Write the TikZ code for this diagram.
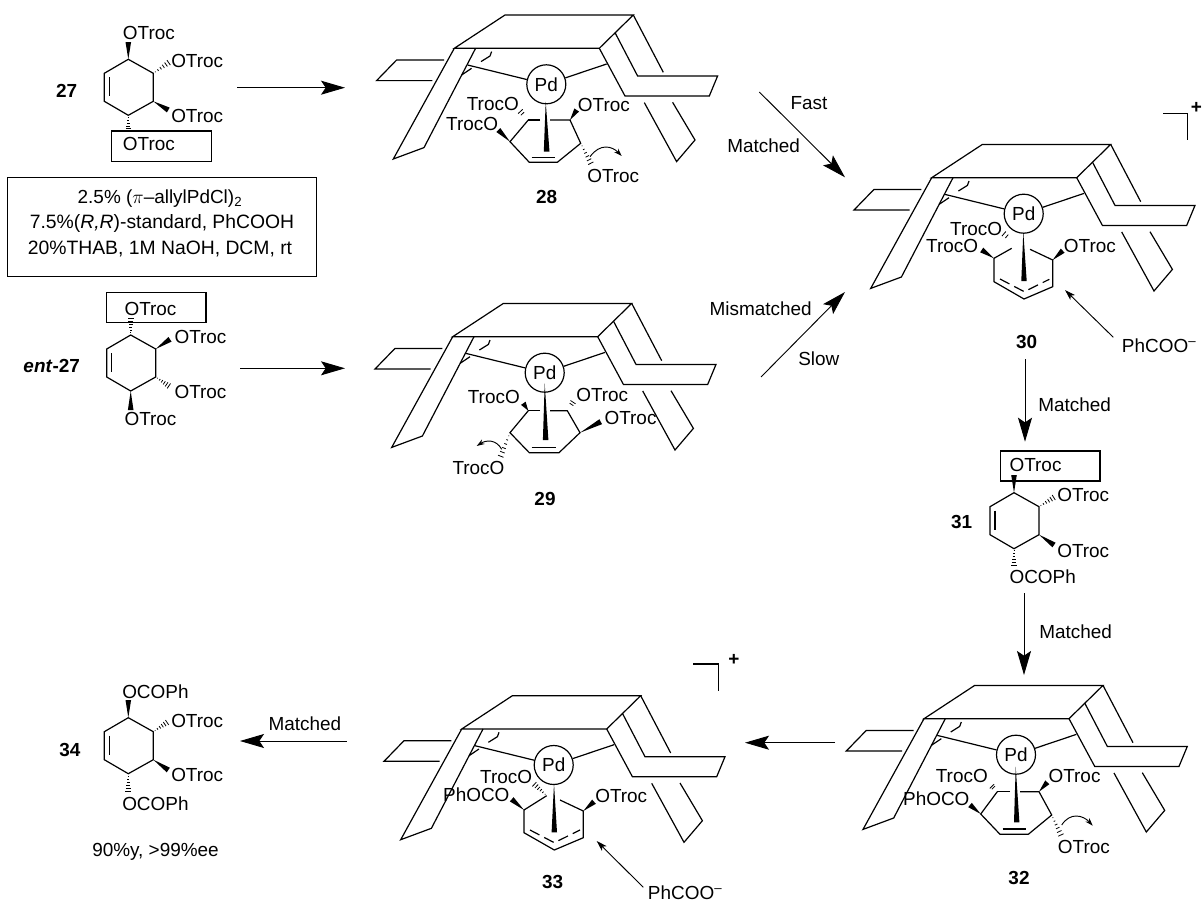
\documentclass[tikz,border=0pt]{standalone}
\usepackage{fontspec}
\setmainfont{Liberation Sans}
\usetikzlibrary{arrows.meta,calc}

\tikzset{
  bondline/.style={line width=0.9pt,line join=miter},
  txt/.style={inner sep=0.75pt,font=\fontsize{14.2}{16}\selectfont},
  reagenttxt/.style={inner sep=0.75pt,font=\fontsize{14.5}{16}\selectfont},
  numlabel/.style={inner sep=0.75pt,font=\fontsize{14.2}{16}\selectfont\bfseries},
  boxline/.style={line width=1pt},
  bigarrow/.style={line width=0.7pt,-{Stealth[length=18pt,width=10.5pt,inset=3.5pt]}},
  smallarrow/.style={line width=0.7pt,-{Stealth[length=8pt,width=5pt,inset=2pt]}},
  curlarrow/.style={line width=0.7pt,-{Stealth[length=6pt,width=4pt,inset=2pt]}}
}

% Pd complex frame, #1 #2 = front left corner of the roof
\newcommand{\pdframe}[3]{
\begin{scope}[shift={(#1,#2)},bondline]
%roof
\draw (0,0) -- (50.7,-33.3) -- (179,-33.3) -- (145,0) -- cycle ;
%left wall
\draw (0,0) -- (-61,110.7) -- (-30.3,99.3) -- (21.3,0) ;
\draw (-10.3,11.7) -- (-57.7,11.7) -- (-77.7,32.3) -- (-22,32.3) ;
\draw (37.3,3.3) -- (35.7,7.7) -- (26.7,13.3) ;
\draw (17.3,20) -- (7.3,26.7) ;
%right wall
\draw (145,0) -- (170.7,47.7) -- (255,47.7) -- (263.3,27.7) -- (183.3,27.7) -- (160.7,-15.7) ;
\draw (179,-33.3) -- (209,24) ;
\draw (190,54.3) -- (222.3,113.3) -- (240.7,91.7) -- (218.3,54) ;
%Pd
\node [circle,draw,inner sep=0pt,minimum size=29.25pt,txt] (#3) at (92,36) {Pd};
\coordinate (#3l) at (13.3,16.7);
\coordinate (#3r) at (152.3,15.7);
\draw (#3l) -- (#3) ;
\draw (#3r) -- (#3) ;
\end{scope}
}

% cyclohexene ring, #1 #2 = top atom, #3 = name
\newcommand{\hexring}[3]{
\begin{scope}[shift={(#1,#2)},bondline]
\coordinate (#3t) at (0,0);
\coordinate (#3rt) at (25,14);
\coordinate (#3rb) at (25,42);
\coordinate (#3b) at (0,56);
\coordinate (#3lb) at (-24,42);
\coordinate (#3lt) at (-24,14);
\draw (#3t) -- (#3rt) -- (#3rb) -- (#3b) -- (#3lb) -- (#3lt) -- cycle ;
\draw (-19,18) -- (-19,37) ;
\end{scope}
}

% wedge and hash bonds from a narrow end to a broad end
\newcommand{\wbond}[2]{
\fill ($#2!2.1pt!90:#1$) -- #1 -- ($#2!2.1pt!-90:#1$) -- cycle ;
}
\newcommand{\hbond}[2]{
\foreach \t in {0.12,0.28,0.44,0.6,0.76,0.92}
  \draw [line width=0.6pt] ($#1!\t!#2!\t*2.4pt!90:#2$) -- ($#1!\t!#2!\t*2.4pt!-90:#2$) ;
}
\newcommand{\hshort}[2]{
\foreach \t in {0.7,0.95}
  \draw [line width=0.6pt] ($#1!\t!#2!\t*2.4pt!90:#2$) -- ($#1!\t!#2!\t*2.4pt!-90:#2$) ;
}

\begin{document}
\begin{tikzpicture}[x=0.75pt,y=0.75pt,yscale=-1,xscale=1]
\useasboundingbox (0,0) rectangle (1203,903);

%Reagent box
\draw [boxline] (7.3,177.7) rectangle (316.7,276.7) ;
\draw (160,199) node [txt] (reagenta) {2.5\% ($\pi$--allylPdCl)\textsubscript{2}};
\draw (162,223.3) node [reagenttxt] (reagentb) {7.5\%(\textit{R,R})-standard, PhCOOH};
\draw (160,249.3) node [reagenttxt] (reagentc) {20\%THAB, 1M NaOH, DCM, rt};

%27
\hexring{128.3}{59.3}{p}
\wbond{(pt)}{(128.3,42)}
\hbond{(prt)}{(170,61.7)}
\wbond{(prb)}{(168.3,110)}
\hbond{(pb)}{(128.3,133)}
\draw [boxline] (111.7,131) rectangle (211.7,161.7) ;
\draw (121.7,32.7) node [txt,anchor=west] (pa) {OTroc};
\draw (170,60.7) node [txt,anchor=west] (pc) {OTroc};
\draw (170,116) node [txt,anchor=west] (pd) {OTroc};
\draw (121.7,144) node [txt,anchor=west] (pe) {OTroc};
\draw (66.7,91) node [numlabel] (nta) {27};

%ent-27
\hexring{130.7}{335}{q}
\hbond{(qt)}{(130.7,317)}
\wbond{(qrt)}{(170,339.3)}
\hbond{(qrb)}{(170,386.7)}
\wbond{(qb)}{(130.7,410)}
\draw [boxline] (106.7,292.3) rectangle (206,322.3) ;
\draw (123.3,309) node [txt,anchor=west] (qa) {OTroc};
\draw (173.3,336.7) node [txt,anchor=west] (qc) {OTroc};
\draw (173.3,391.7) node [txt,anchor=west] (qd) {OTroc};
\draw (123.3,419.3) node [txt,anchor=west] (qe) {OTroc};
\draw (51.7,365.7) node [numlabel] (ntb) {\textit{ent}-27};

%28
\pdframe{454.3}{48.3}{pda}
\begin{scope}[bondline]
\draw (528.3,120) -- (510,141.7) -- (529.3,162.3) -- (557.3,162.3) -- (580.7,143.3) -- (570,120) -- (550,120) ;
\draw (540,120) -- (528.3,120) ;
\draw (531.7,157.7) -- (555,157.7) ;
\end{scope}
\fill (545.7,101.7) -- (549.5,151.7) -- (543.8,151.7) -- cycle ;
\wbond{(510,141.7)}{(498.3,130)}
\wbond{(570,120)}{(576.7,110)}
\hbond{(580.7,143.3)}{(591.7,165)}
\hshort{(528.3,120)}{(520,111)}
\draw [curlarrow] (590,156.7) .. controls (600,143) and (612,146) .. (621.7,156) ;
\draw (520,104) node [txt,anchor=east] (ra) {TrocO};
\draw (499.3,124) node [txt,anchor=east] (rb) {TrocO};
\draw (576.7,105) node [txt,anchor=west] (rc) {OTroc};
\draw (586,175.7) node [txt,anchor=west] (rd) {OTroc};
\draw (546.7,197.3) node [numlabel] (ntc) {28};

%29
\pdframe{452.7}{336.7}{pdb}
\begin{scope}[bondline]
\draw (528.3,410.7) -- (510,432.7) -- (529.3,452.7) -- (559,452.7) -- (580,432.7) -- (567.3,410.7) -- (550,410.7) ;
\draw (540,410.7) -- (528.3,410.7) ;
\draw (531.7,447.3) -- (556,447.3) ;
\end{scope}
\fill (544.7,383.3) -- (548.4,440) -- (542.9,440) -- cycle ;
\wbond{(528.3,410.7)}{(523.3,403.3)}
\hshort{(567.3,410.7)}{(573.3,401.7)}
\wbond{(580,432.7)}{(600.7,421.7)}
\hbond{(510,432.7)}{(500,458.3)}
\draw [curlarrow] (501.7,449.3) .. controls (496,439) and (486,440) .. (476.7,446) ;
\draw (521,396.7) node [txt,anchor=east] (sa) {TrocO};
\draw (575,395) node [txt,anchor=west] (sb) {OTroc};
\draw (603.3,417.7) node [txt,anchor=west] (sc) {OTroc};
\draw (505.7,467.7) node [txt,anchor=east] (sd) {TrocO};
\draw (545,499.3) node [numlabel] (ntd) {29};

%30
\pdframe{931.7}{177.7}{pdc}
\begin{scope}[bondline]
\draw (1011.7,248.3) -- (994,258.3) -- (994,281.7) -- (1024,299) -- (1052.7,286.7) -- (1052.7,260) -- (1030,249.3) ;
\draw [dash pattern=on 8pt off 4pt] (1000,279) -- (1024.3,291.7) -- (1049.3,279.3) ;
\draw (1163.3,113.3) -- (1187.3,113.3) -- (1187.3,140) ;
\end{scope}
\fill (1023.3,231.7) -- (1026.7,281) -- (1021.3,281) -- cycle ;
\wbond{(994,258.3)}{(981.7,250)}
\wbond{(1052.7,260)}{(1062.7,250.7)}
\hshort{(1015,243.3)}{(1003.3,233.3)}
\draw (1003.3,229) node [txt,anchor=east] (ta) {TrocO};
\draw (979.3,246) node [txt,anchor=east] (tb) {TrocO};
\draw (1062.7,245.7) node [txt,anchor=west] (tc) {OTroc};
\draw (1026.7,341.7) node [numlabel] (nte) {30};
\draw (1120.7,346) node [txt,anchor=west] (td) {PhCOO\textsuperscript{--}};
\draw (1196.5,108.3) node [numlabel] (te) {+};
\coordinate (tg) at (1065,290);
\draw [smallarrow] (1113.3,337.3) -- (tg) ;

%32
\pdframe{924}{718.7}{pdd}
\begin{scope}[bondline]
\draw (997.3,791.7) -- (980.7,814) -- (1000,834.3) -- (1028.3,834.3) -- (1051.7,815) -- (1039,791.7) -- (1020,791.7) ;
\draw (1010,791.7) -- (997.3,791.7) ;
\draw (1002.7,829) -- (1026,829) ;
\end{scope}
\fill (1015.7,766.7) -- (1019.4,822.3) -- (1014,822.3) -- cycle ;
\wbond{(980.7,814)}{(970,805)}
\wbond{(1039,791.7)}{(1047.3,782.3)}
\hbond{(1051.7,815)}{(1061.7,836.7)}
\hshort{(997.3,791.7)}{(991.7,786)}
\draw [curlarrow] (1061.7,825) .. controls (1070,812) and (1083,815) .. (1092.7,825.7) ;
\draw (989,775.7) node [txt,anchor=east] (ua) {TrocO};
\draw (970.7,799) node [txt,anchor=east] (ub) {PhOCO};
\draw (1047.3,776) node [txt,anchor=west] (uc) {OTroc};
\draw (1056.7,847.3) node [txt,anchor=west] (ud) {OTroc};
\draw (1019,877.7) node [numlabel] (ntf) {32};

%33
\pdframe{461.7}{729}{pde}
\begin{scope}[bondline]
\draw (546.7,795.7) -- (524,810) -- (524,832.7) -- (554.3,850) -- (583.3,837.7) -- (583.3,811) -- (560,800) ;
\draw [dash pattern=on 8pt off 4pt] (530,830) -- (554.3,842.7) -- (580,830) ;
\draw (693.3,664) -- (718.3,664) -- (718.3,690.7) ;
\end{scope}
\fill (554,783.3) -- (557,832.3) -- (551.6,832.3) -- cycle ;
\wbond{(524,810)}{(511.7,799.3)}
\wbond{(583.3,811)}{(594,801.7)}
\hbond{(546.7,795.7)}{(533.3,783.3)}
\draw (533.3,776.7) node [txt,anchor=east] (va) {TrocO};
\draw (510.7,795) node [txt,anchor=east] (vb) {PhOCO};
\draw (594,796) node [txt,anchor=west] (vc) {OTroc};
\draw (552.7,881.7) node [numlabel] (ntg) {33};
\draw (646.7,893) node [txt,anchor=west] (vd) {PhCOO\textsuperscript{--}};
\draw (734,660) node [numlabel] (ve) {+};
\coordinate (vg) at (596.7,841);
\draw [smallarrow] (643.3,887.3) -- (vg) ;

%31
\hexring{1014}{492.7}{w}
\wbond{(wt)}{(1014,475)}
\hbond{(wrt)}{(1055,496.7)}
\wbond{(wrb)}{(1054,545)}
\hbond{(wb)}{(1014,566.7)}
\draw [boxline] (1000.7,451) rectangle (1100,481) ;
\draw (1008.3,465) node [txt,anchor=west] (wa) {OTroc};
\draw (1056,495) node [txt,anchor=west] (wc) {OTroc};
\draw (1056,550.7) node [txt,anchor=west] (wd) {OTroc};
\draw (1008.3,576.7) node [txt,anchor=west] (we) {OCOPh};
\draw (961.7,522.3) node [numlabel] (nth) {31};

%34
\hexring{128.3}{717.7}{x}
\wbond{(xt)}{(128.3,700)}
\hbond{(xrt)}{(168.3,721.7)}
\wbond{(xrb)}{(168.3,770)}
\hbond{(xb)}{(128.3,793.3)}
\draw (121,691.7) node [txt,anchor=west] (xa) {OCOPh};
\draw (170,720.7) node [txt,anchor=west] (xc) {OTroc};
\draw (170,775) node [txt,anchor=west] (xd) {OTroc};
\draw (121,803.3) node [txt,anchor=west] (xe) {OCOPh};
\draw (70,750) node [numlabel] (nti) {34};
\draw (91,851.7) node [txt,anchor=west] (yield) {90\%y, >99\%ee};

%Reaction arrows
\coordinate (aas) at (237.3,87.7);
\coordinate (aae) at (345,87.7);
\coordinate (abs) at (240,368.3);
\coordinate (abe) at (345,368.3);
\coordinate (acs) at (759.3,92);
\coordinate (ace) at (845,177.3);
\coordinate (ads) at (761,377);
\coordinate (ade) at (845,292);
\coordinate (aes) at (1025,359.3);
\coordinate (aee) at (1025,441.7);
\coordinate (afs) at (1024,593.3);
\coordinate (afe) at (1024,675);
\coordinate (ags) at (835,742.7);
\coordinate (age) at (745,742.7);
\coordinate (ahs) at (346.7,741);
\coordinate (ahe) at (240,741);
\draw [bigarrow] (aas) -- (aae) ;
\draw [bigarrow] (abs) -- (abe) ;
\draw [bigarrow] (acs) -- (ace) ;
\draw [bigarrow] (ads) -- (ade) ;
\draw [bigarrow] (aes) -- (aee) ;
\draw [bigarrow] (afs) -- (afe) ;
\draw [bigarrow] (ags) -- (age) ;
\draw [bigarrow] (ahs) -- (ahe) ;

%Arrow labels
\draw (789.3,103) node [txt,anchor=west] (fast) {Fast};
\draw (726,146) node [txt,anchor=west] (match) {Matched};
\draw (708.3,309) node [txt,anchor=west] (mismatch) {Mismatched};
\draw (797,359) node [txt,anchor=west] (slow) {Slow};
\draw (1037,405) node [txt,anchor=west] (matchb) {Matched};
\draw (1038,632) node [txt,anchor=west] (matchc) {Matched};
\draw (267.3,724) node [txt,anchor=west] (matchd) {Matched};
\end{tikzpicture}
\end{document}
